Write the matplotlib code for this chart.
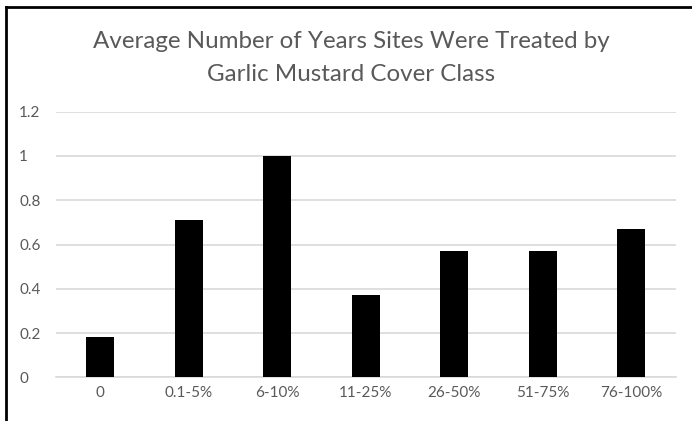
import matplotlib
matplotlib.use("Agg")
import matplotlib.pyplot as plt
from matplotlib.lines import Line2D

categories = ["0", "0.1-5%", "6-10%", "11-25%", "26-50%", "51-75%", "76-100%"]
avg_years = [0.18, 0.71, 1.0, 0.37, 0.57, 0.57, 0.67]
y_ticks = [0, 0.2, 0.4, 0.6, 0.8, 1.0, 1.2]
y_tick_labels = ["0", "0.2", "0.4", "0.6", "0.8", "1", "1.2"]
title = "Average Number of Years Sites Were Treated by\nGarlic Mustard Cover Class"

plt.rcParams["font.family"] = ["Lato", "DejaVu Sans"]
text_gray = "#595959"
grid_gray = "#d9d9d9"

W, H = 692, 421
fig = plt.figure(figsize=(W / 100, H / 100), dpi=100)
ax = fig.add_axes([56 / W, 1 - 377.3 / H, (675.5 - 56) / W, (377.3 - 111.7) / H])

x = range(len(categories))
ax.bar(x, avg_years, width=0.32, color="black", zorder=3)

ax.set_xlim(-0.5, len(categories) - 0.5)
ax.set_ylim(0, 1.2)
ax.set_yticks(y_ticks)
ax.set_yticklabels(y_tick_labels)
ax.set_xticks(list(x))
ax.set_xticklabels(categories)
ax.yaxis.grid(True, color=grid_gray, linewidth=1.2, zorder=0)
ax.tick_params(axis="both", length=0, colors=text_gray, labelsize=11)
ax.tick_params(axis="y", pad=26.5)
ax.tick_params(axis="x", pad=6)
for side in ("left", "right", "top"):
    ax.spines[side].set_visible(False)
ax.spines["bottom"].set_color(grid_gray)
ax.spines["bottom"].set_linewidth(1.2)
for lbl in ax.get_yticklabels():
    lbl.set_horizontalalignment("left")

fig.text(351 / W, 1 - 58 / H, title, ha="center", va="center",
         fontsize=17.4, color=text_gray, linespacing=1.65)

# chart frame along left and top edges
fig.add_artist(Line2D([6 / W, 6 / W], [0, 1 - 7 / H], color="black", linewidth=2,
                      transform=fig.transFigure))
fig.add_artist(Line2D([6 / W, 1], [1 - 7 / H, 1 - 7 / H], color="black", linewidth=2,
                      transform=fig.transFigure))

fig.savefig("out.png", dpi=100)
